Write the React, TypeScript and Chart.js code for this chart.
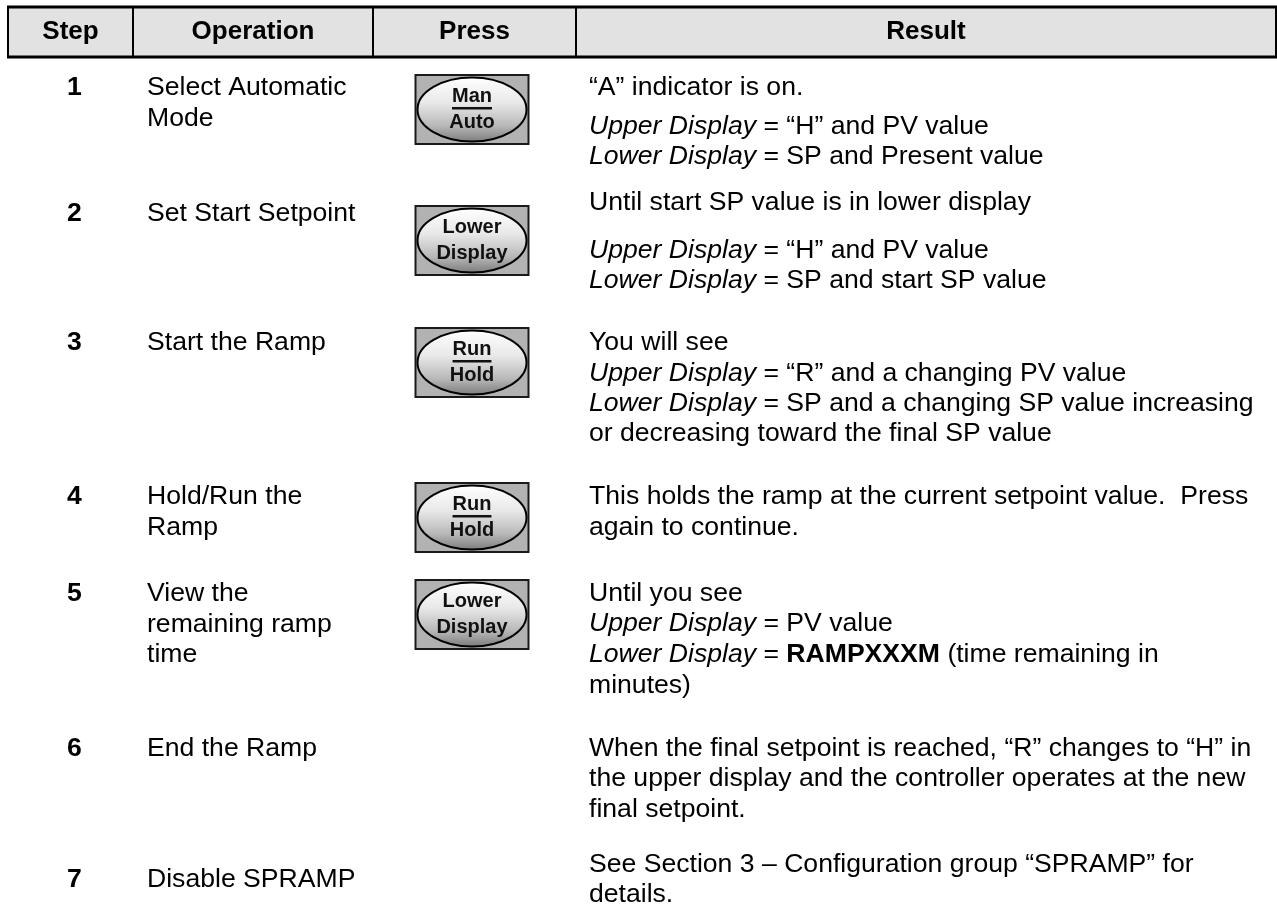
import React, { useEffect, useRef } from "react";
import { Chart, registerables } from "chart.js";

Chart.register(...registerables);

// ---------- content ----------
type Seg = { t: string; s?: "i" | "b" };

const headers = ["Step", "Operation", "Press", "Result"];

const steps = ["1", "2", "3", "4", "5", "6", "7"];

const operations: string[][] = [
  ["Select Automatic", "Mode"],
  ["Set Start Setpoint"],
  ["Start the Ramp"],
  ["Hold/Run the", "Ramp"],
  ["View the", "remaining ramp", "time"],
  ["End the Ramp"],
  ["Disable SPRAMP"],
];

const pressKeys: (string[] | null)[] = [
  ["Man", "Auto"],
  ["Lower", "Display"],
  ["Run", "Hold"],
  ["Run", "Hold"],
  ["Lower", "Display"],
  null,
  null,
];

const keyIsToggle = [true, false, true, true, false, false, false];

const results: Seg[][][] = [
  [
    [{ t: "\u201CA\u201D indicator is on." }],
    [{ t: "Upper Display", s: "i" }, { t: " = \u201CH\u201D and PV value" }],
    [{ t: "Lower Display", s: "i" }, { t: " = SP and Present value" }],
  ],
  [
    [{ t: "Until start SP value is in lower display" }],
    [{ t: "Upper Display", s: "i" }, { t: " = \u201CH\u201D and PV value" }],
    [{ t: "Lower Display", s: "i" }, { t: " = SP and start SP value" }],
  ],
  [
    [{ t: "You will see" }],
    [{ t: "Upper Display", s: "i" }, { t: " = \u201CR\u201D and a changing PV value" }],
    [{ t: "Lower Display", s: "i" }, { t: " = SP and a changing SP value increasing" }],
    [{ t: "or decreasing toward the final SP value" }],
  ],
  [
    [{ t: "This holds the ramp at the current setpoint value.  Press" }],
    [{ t: "again to continue." }],
  ],
  [
    [{ t: "Until you see" }],
    [{ t: "Upper Display", s: "i" }, { t: " = PV value" }],
    [{ t: "Lower Display", s: "i" }, { t: " = " }, { t: "RAMPXXXM", s: "b" }, { t: " (time remaining in" }],
    [{ t: "minutes)" }],
  ],
  [
    [{ t: "When the final setpoint is reached, \u201CR\u201D changes to \u201CH\u201D in" }],
    [{ t: "the upper display and the controller operates at the new" }],
    [{ t: "final setpoint." }],
  ],
  [
    [{ t: "See Section 3 \u2013 Configuration group \u201CSPRAMP\u201D for" }],
    [{ t: "details." }],
  ],
];

// ---------- layout (page pixel units, mapped through the chart scales) ----------
const PAGE_W = 1277;
const PAGE_H = 917;
const COL_EDGES = [8, 133, 373, 576, 1276];
const HEAD_TOP = 7;
const HEAD_BOTTOM = 57;
const HEAD_TEXT_Y = 32;
const STEP_X = 67;
const OP_X = 147;
const RES_X = 589;
const OP_LINE = 30.5;
const STEP_Y = [88, 214, 343, 497, 594, 749, 880];
const RESULT_Y = [
  [88, 127, 157],
  [203, 251, 281],
  [343, 374, 404, 434],
  [497, 528],
  [594, 624, 655, 686],
  [749, 779, 810],
  [865, 895],
];
const BTN_TOP = [75, 206, 328, 483, 580, 0, 0];
const BTN_CX = 472;
const BTN_W = 113;
const BTN_H = 69;

const FONT = '"Liberation Sans", Arial, Helvetica, sans-serif';
const BODY_SIZE = 26.6;
const HEAD_SIZE = 26;
const KEY_SIZE = 20;

const tablePlugin = {
  id: "tablePlugin",
  afterDraw(chart: any) {
    const ctx: CanvasRenderingContext2D = chart.ctx;
    const xs = chart.scales.x;
    const ys = chart.scales.y;
    const X = (v: number) => xs.getPixelForValue(v);
    const Y = (v: number) => ys.getPixelForValue(v);

    ctx.save();
    // header background
    const l = X(COL_EDGES[0]);
    const r = X(COL_EDGES[COL_EDGES.length - 1]);
    ctx.fillStyle = "#e2e2e2";
    ctx.fillRect(l, Y(HEAD_TOP), r - l, Y(HEAD_BOTTOM) - Y(HEAD_TOP));

    // header vertical lines
    ctx.strokeStyle = "#000";
    ctx.lineWidth = 2;
    COL_EDGES.forEach((c) => {
      ctx.beginPath();
      ctx.moveTo(X(c), Y(HEAD_TOP));
      ctx.lineTo(X(c), Y(HEAD_BOTTOM));
      ctx.stroke();
    });
    // header horizontal borders
    ctx.lineWidth = 3;
    [HEAD_TOP, HEAD_BOTTOM].forEach((yv) => {
      ctx.beginPath();
      ctx.moveTo(l - 1, Y(yv));
      ctx.lineTo(r + 1, Y(yv));
      ctx.stroke();
    });

    // header text
    ctx.fillStyle = "#000";
    ctx.textBaseline = "middle";
    ctx.textAlign = "center";
    ctx.font = `bold ${HEAD_SIZE}px ${FONT}`;
    headers.forEach((h, i) => {
      ctx.fillText(h, X((COL_EDGES[i] + COL_EDGES[i + 1]) / 2), Y(HEAD_TEXT_Y));
    });

    // rows
    steps.forEach((s, i) => {
      ctx.textAlign = "left";
      ctx.font = `bold ${BODY_SIZE}px ${FONT}`;
      ctx.fillText(s, X(STEP_X), Y(STEP_Y[i]));
      ctx.font = `${BODY_SIZE}px ${FONT}`;
      operations[i].forEach((line, j) => {
        ctx.fillText(line, X(OP_X), Y(STEP_Y[i] + j * OP_LINE));
      });

      results[i].forEach((line, j) => {
        let x = X(RES_X);
        const y = Y(RESULT_Y[i][j]);
        line.forEach((seg) => {
          const style = seg.s === "i" ? "italic " : seg.s === "b" ? "bold " : "";
          ctx.font = `${style}${BODY_SIZE}px ${FONT}`;
          ctx.fillText(seg.t, x, y);
          x += ctx.measureText(seg.t).width;
        });
      });

      const key = pressKeys[i];
      if (key) drawKey(ctx, X(BTN_CX), Y(BTN_TOP[i]), BTN_W, BTN_H, key, keyIsToggle[i]);
    });
    ctx.restore();
  },
};

function drawKey(
  ctx: CanvasRenderingContext2D,
  cx: number,
  top: number,
  w: number,
  h: number,
  lines: string[],
  toggle: boolean
) {
  const left = cx - w / 2;
  ctx.save();
  ctx.fillStyle = "#b2b2b2";
  ctx.fillRect(left, top, w, h);
  ctx.strokeStyle = "#1a1a1a";
  ctx.lineWidth = 2;
  ctx.strokeRect(left, top, w, h);

  const cy = top + h / 2;
  const g = ctx.createLinearGradient(0, top + 2, 0, top + h - 2);
  g.addColorStop(0, "#ffffff");
  g.addColorStop(0.4, "#e8e8e8");
  g.addColorStop(0.75, "#b8b8b8");
  g.addColorStop(1, "#7c7c7c");
  ctx.beginPath();
  ctx.ellipse(cx, cy, w / 2 - 2, h / 2 - 2.5, 0, 0, Math.PI * 2);
  ctx.fillStyle = g;
  ctx.fill();
  ctx.lineWidth = 2;
  ctx.strokeStyle = "#000";
  ctx.stroke();

  ctx.fillStyle = "#111";
  ctx.textAlign = "center";
  ctx.textBaseline = "middle";
  ctx.font = `bold ${KEY_SIZE}px ${FONT}`;
  ctx.fillText(lines[0], cx, top + 21);
  ctx.fillText(lines[1], cx, top + 47);
  if (toggle) {
    const tw = ctx.measureText(lines[0]).width;
    ctx.fillRect(cx - tw / 2, top + 32, tw, 2.5);
  }
  ctx.restore();
}

export default function App() {
  const ref = useRef<HTMLCanvasElement>(null);
  useEffect(() => {
    if (!ref.current) return;
    const chart = new Chart(ref.current, {
      type: "scatter",
      data: { datasets: [{ data: [], pointRadius: 0 }] },
      options: {
        animation: false,
        responsive: false,
        layout: { padding: 0 },
        events: [],
        plugins: { legend: { display: false }, tooltip: { enabled: false } },
        scales: {
          x: { type: "linear", min: 0, max: PAGE_W, display: false },
          y: { type: "linear", min: 0, max: PAGE_H, reverse: true, display: false },
        },
      },
      plugins: [tablePlugin],
    });
    return () => chart.destroy();
  }, []);
  return (
    <div style={{ position: "fixed", left: 0, top: 0, width: PAGE_W, height: PAGE_H, background: "#fff" }}>
      <canvas ref={ref} width={PAGE_W} height={PAGE_H} style={{ display: "block" }} />
    </div>
  );
}
